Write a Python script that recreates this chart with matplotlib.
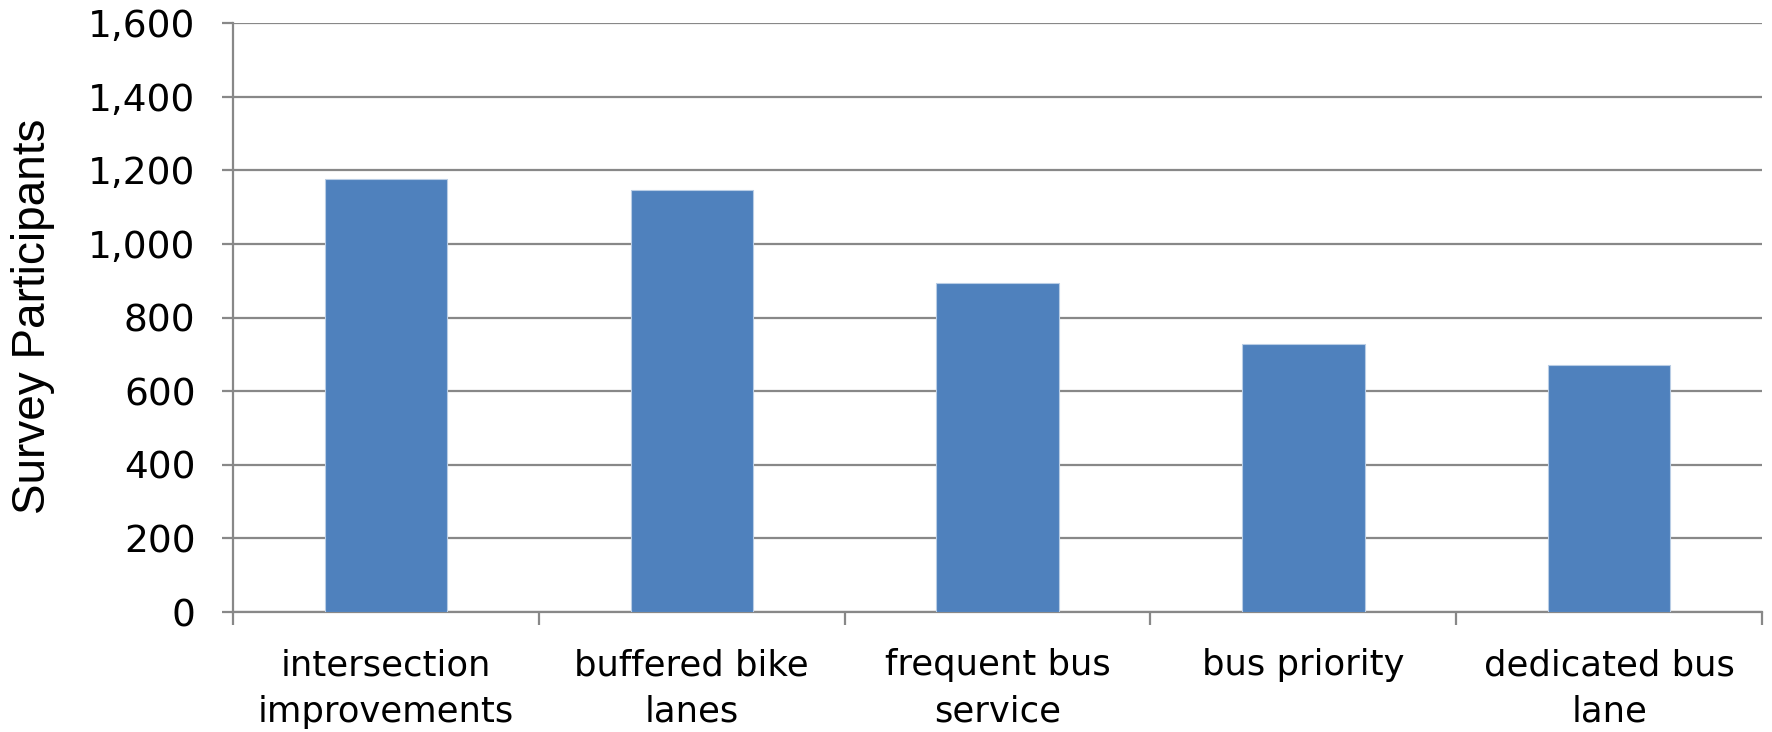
import matplotlib
matplotlib.use("Agg")
import matplotlib.pyplot as plt
from matplotlib.ticker import FuncFormatter
import numpy as np

categories = ["intersection\nimprovements", "buffered bike\nlanes", "frequent bus\nservice",
              "bus priority", "dedicated bus\nlane"]
participants = [1176, 1146, 894, 729, 670]
y_ticks = [0, 200, 400, 600, 800, 1000, 1200, 1400, 1600]

plt.rcParams["font.family"] = ["DejaVu Sans"]

fig = plt.figure(figsize=(17.72, 7.32), dpi=100)
ax = fig.add_axes([0.1315, 0.1639, 0.9944 - 0.1315, 0.9682 - 0.1639])

x = np.arange(len(categories))
ax.bar(x, participants, width=0.4, color="#4F81BD", edgecolor="#B9CDE5",
       linewidth=0.8, zorder=3)

grid_color = "#888888"
ax.set_ylim(0, 1600)
ax.set_xlim(-0.5, len(categories) - 0.5)
ax.set_yticks(y_ticks)
ax.yaxis.set_major_formatter(FuncFormatter(lambda v, p: f"{int(v):,}"))
ax.yaxis.grid(True, color=grid_color, linewidth=1.6, zorder=0)

# category labels centered, tick marks on category boundaries
ax.set_xticks(x)
ax.set_xticklabels(categories, fontsize=25.5, linespacing=1.47)
ax.tick_params(axis="x", which="major", length=0, pad=26)
ax.set_xticks(np.arange(len(categories) + 1) - 0.5, minor=True)
ax.tick_params(axis="x", which="minor", length=9, width=1.6, color=grid_color)

ax.tick_params(axis="y", length=8, width=1.6, color=grid_color, labelsize=27, pad=19)

for side in ["top", "right"]:
    ax.spines[side].set_visible(False)
for side in ["left", "bottom"]:
    ax.spines[side].set_color(grid_color)
    ax.spines[side].set_linewidth(1.6)

ax.set_ylabel("Survey Participants", fontsize=33, family="Liberation Sans")
ax.yaxis.set_label_coords(55 / 1772, (612 - 316) / 588.7)
ax.yaxis.label.set_transform(matplotlib.transforms.blended_transform_factory(
    fig.transFigure, ax.transAxes))

fig.savefig("out.png", dpi=100)
